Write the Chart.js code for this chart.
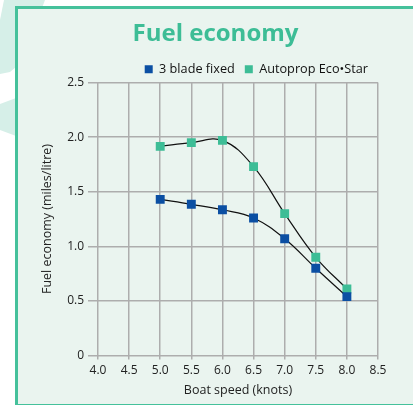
<!DOCTYPE html>
<html>
<head>
<meta charset="utf-8">
<script src="https://cdn.jsdelivr.net/npm/chart.js@4.4.1/dist/chart.umd.min.js"></script>
<style>
  html, body { margin: 0; padding: 0; background: #ffffff; width: 413px; height: 405px; overflow: hidden; position: relative; }
  .deco1 { position: absolute; left: 0; top: 0; width: 45px; height: 75px; background: #d6efe8;
           clip-path: polygon(4px 0, 45px 0, 22px 62px, 10px 72px, 0 74px, 0 20px); }
  .deco2 { position: absolute; left: 0; top: 98px; width: 16px; height: 38px; background: #d6efe8;
           clip-path: polygon(0 6px, 16px 0, 16px 38px, 0 32px); }
  .frame { position: absolute; left: 15px; top: 6px; width: 420px; height: 395px;
           border: 3px solid #45c19b; background: #eaf4ef; }
  #wrap { position: absolute; left: 18px; top: 0; width: 395px; height: 405px; }
</style>
</head>
<body>
<div class="deco1"></div>
<div class="deco2"></div>
<div class="frame"></div>
<div id="wrap"><canvas id="c" width="395" height="405"></canvas></div>
<script>
const speeds = [5.0, 5.5, 6.0, 6.5, 7.0, 7.5, 8.0];
const bladeFixed = [1.43, 1.385, 1.335, 1.26, 1.07, 0.80, 0.54];
const autoprop = [1.915, 1.95, 1.97, 1.73, 1.30, 0.90, 0.61];
const seriesNames = ['3 blade fixed', 'Autoprop Eco\u2022Star'];
const xTicks = [4.0, 4.5, 5.0, 5.5, 6.0, 6.5, 7.0, 7.5, 8.0, 8.5];
const yTicks = [0, 0.5, 1.0, 1.5, 2.0, 2.5];

const BLUE = '#0b4fa3';
const GREEN = '#3dbd96';
const FONT = "'Open Sans', 'DejaVu Sans', sans-serif";

function pts(ys) { return speeds.map((x, i) => ({ x: x, y: ys[i] })); }

const legendTrim = {
  id: 'legendTrim',
  beforeInit(chart) {
    const orig = chart.legend.fit;
    chart.legend.fit = function () { orig.call(this); this.height -= 3; };
  },
  afterLayout(chart) {
    chart.legend.right = chart.chartArea.right;
  }
};

new Chart(document.getElementById('c'), {
  type: 'line',
  data: {
    datasets: [
      { label: seriesNames[0], data: pts(bladeFixed), borderColor: '#111', borderWidth: 1.2,
        backgroundColor: BLUE, pointBackgroundColor: BLUE, pointBorderWidth: 0,
        pointStyle: 'rect', pointRadius: 6.3, pointHoverRadius: 6.3, tension: 0.4, fill: false },
      { label: seriesNames[1], data: pts(autoprop), borderColor: '#111', borderWidth: 1.2,
        backgroundColor: GREEN, pointBackgroundColor: GREEN, pointBorderWidth: 0,
        pointStyle: 'rect', pointRadius: 6.3, pointHoverRadius: 6.3, tension: 0.4, fill: false }
    ]
  },
  plugins: [legendTrim],
  options: {
    responsive: false,
    animation: false,
    layout: { padding: { left: 0, right: 0, top: 0, bottom: 7 } },
    plugins: {
      tooltip: { enabled: false },
      title: {
        display: true, text: 'Fuel economy', color: GREEN,
        font: { family: FONT, size: 24, weight: 'bold' },
        padding: { top: 20, bottom: 4 }
      },
      legend: {
        display: true, align: 'end',
        labels: {
          boxWidth: 8, boxHeight: 8, padding: 10, color: '#111',
          font: { family: FONT, size: 12.7 },
          generateLabels: (chart) => chart.data.datasets.map((ds, i) => ({
            text: ds.label, fillStyle: ds.backgroundColor, strokeStyle: ds.backgroundColor,
            lineWidth: 0, hidden: false, datasetIndex: i, fontColor: '#111'
          }))
        }
      }
    },
    scales: {
      x: {
        type: 'linear', min: 4.0, max: 8.5,
        afterBuildTicks: (s) => { s.ticks = xTicks.map(v => ({ value: v })); },
        afterFit: (s) => { s.paddingRight = 35; },
        ticks: { color: '#222', font: { family: FONT, size: 12 }, padding: 4,
                 callback: (v) => Number(v).toFixed(1), maxRotation: 0 },
        grid: { color: '#adadad', lineWidth: 1.5, tickLength: 4, drawTicks: true },
        border: { display: false },
        title: { display: true, text: 'Boat speed (knots)', color: '#222',
                 font: { family: FONT, size: 12.5 }, padding: { top: 1, bottom: 0 } }
      },
      y: {
        type: 'linear', min: 0, max: 2.5,
        afterBuildTicks: (s) => { s.ticks = yTicks.map(v => ({ value: v })); },
        afterFit: (s) => { s.width = 80; },
        ticks: { color: '#222', font: { family: FONT, size: 12 }, padding: 4,
                 callback: (v) => v === 0 ? '0' : Number(v).toFixed(1) },
        grid: { color: '#adadad', lineWidth: 1.5, tickLength: 10 },
        border: { display: false },
        title: { display: true, text: 'Fuel economy (miles/litre)', color: '#222',
                 font: { family: FONT, size: 12.5 }, padding: { top: 22, bottom: 0 } }
      }
    }
  }
});
</script>
</body>
</html>
